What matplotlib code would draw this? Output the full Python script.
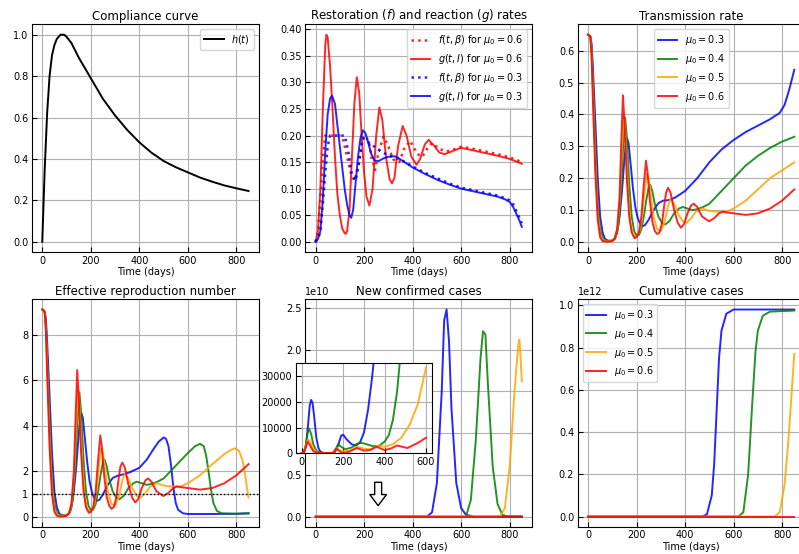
import matplotlib
matplotlib.use('Agg')
import matplotlib.pyplot as plt

# ---- compliance curve h(t)
h_t = [0, 10, 20, 30, 40, 50, 60, 75, 90, 100, 120, 150, 200, 250, 300, 350, 400,
       450, 500, 550, 600, 650, 700, 750, 800, 850]
h_v = [0, 0.35, 0.62, 0.8, 0.9, 0.95, 0.98, 1.0, 1.0, 0.99, 0.96, 0.89, 0.79, 0.69,
       0.61, 0.54, 0.48, 0.43, 0.39, 0.36, 0.335, 0.31, 0.29, 0.272, 0.258, 0.245]

# ---- restoration f and reaction g rates
f06_t = [0, 10, 20, 30, 40, 100, 115, 130, 145, 160, 175, 190, 200, 220, 230, 245, 260,
         280, 300, 320, 345, 365, 390, 420, 440, 460, 480, 510, 540, 570, 600, 650, 700,
         750, 800, 850]
f06_v = [0, 0.02, 0.08, 0.16, 0.2, 0.2, 0.19, 0.16, 0.13, 0.115, 0.14, 0.185, 0.2, 0.19,
         0.16, 0.135, 0.17, 0.198, 0.18, 0.155, 0.15, 0.175, 0.19, 0.165, 0.16, 0.175,
         0.186, 0.175, 0.17, 0.174, 0.179, 0.175, 0.17, 0.165, 0.159, 0.15]
g06_t = [0, 10, 20, 30, 40, 45, 50, 60, 70, 80, 90, 100, 110, 120, 125, 130, 140, 150,
         160, 170, 180, 190, 200, 210, 222, 235, 250, 263, 275, 290, 305, 315, 325, 340,
         359, 375, 395, 416, 430, 450, 466, 490, 510, 532, 560, 600, 650, 700, 750, 800, 850]
g06_v = [0, 0.02, 0.1, 0.25, 0.37, 0.39, 0.385, 0.33, 0.25, 0.16, 0.09, 0.05, 0.025,
         0.016, 0.015, 0.02, 0.06, 0.16, 0.26, 0.31, 0.28, 0.2, 0.13, 0.085, 0.068, 0.1,
         0.2, 0.253, 0.23, 0.16, 0.118, 0.11, 0.12, 0.18, 0.218, 0.2, 0.16, 0.145, 0.155,
         0.183, 0.192, 0.18, 0.168, 0.165, 0.17, 0.177, 0.172, 0.167, 0.162, 0.156, 0.147]
f03_t = [0, 10, 20, 30, 40, 50, 60, 120, 135, 150, 165, 180, 195, 210, 240, 270, 300,
         350, 400, 450, 500, 550, 600, 650, 700, 750, 780, 800, 815, 830, 850]
f03_v = [0, 0.005, 0.02, 0.07, 0.13, 0.18, 0.2, 0.2, 0.17, 0.125, 0.115, 0.15, 0.195,
         0.19, 0.18, 0.17, 0.163, 0.155, 0.142, 0.13, 0.12, 0.11, 0.102, 0.097, 0.092,
         0.087, 0.082, 0.078, 0.07, 0.055, 0.035]
g03_t = [0, 10, 20, 30, 40, 50, 60, 68, 80, 90, 100, 110, 120, 130, 140, 147, 155, 165,
         175, 185, 195, 205, 215, 230, 243, 260, 280, 300, 327, 350, 400, 450, 500, 550,
         600, 650, 700, 750, 780, 800, 815, 830, 840, 850]
g03_v = [0, 0.005, 0.02, 0.08, 0.17, 0.24, 0.27, 0.275, 0.26, 0.22, 0.18, 0.14, 0.1,
         0.07, 0.05, 0.045, 0.06, 0.11, 0.16, 0.195, 0.21, 0.205, 0.19, 0.165, 0.153,
         0.152, 0.157, 0.16, 0.161, 0.155, 0.14, 0.128, 0.117, 0.108, 0.1, 0.095, 0.09,
         0.085, 0.08, 0.075, 0.065, 0.05, 0.04, 0.028]

# ---- transmission rate beta for each mu0
b03_t = [0, 5, 10, 15, 20, 30, 40, 50, 60, 70, 80, 90, 100, 110, 120, 130, 140, 150, 157,
         161, 167, 175, 185, 195, 205, 215, 225, 235, 250, 270, 290, 310, 320, 340, 360,
         400, 450, 500, 550, 600, 650, 700, 750, 790, 810, 830, 850]
b03_v = [0.65, 0.648, 0.645, 0.62, 0.55, 0.38, 0.2, 0.08, 0.03, 0.01, 0.005, 0.004,
         0.005, 0.01, 0.03, 0.08, 0.16, 0.26, 0.31, 0.325, 0.31, 0.25, 0.17, 0.11, 0.075,
         0.057, 0.05, 0.053, 0.07, 0.1, 0.122, 0.13, 0.13, 0.133, 0.14, 0.16, 0.2, 0.25,
         0.29, 0.32, 0.345, 0.365, 0.385, 0.405, 0.43, 0.48, 0.54]
b04_t = [0, 5, 10, 15, 20, 30, 40, 50, 60, 80, 100, 115, 125, 135, 145, 153, 160, 170,
         180, 190, 200, 210, 220, 230, 240, 250, 256, 265, 275, 290, 305, 318, 335, 355,
         375, 390, 410, 430, 450, 475, 500, 550, 600, 650, 700, 750, 800, 850]
b04_v = [0.65, 0.648, 0.643, 0.6, 0.5, 0.3, 0.12, 0.04, 0.012, 0.003, 0.004, 0.015,
         0.05, 0.14, 0.3, 0.39, 0.33, 0.18, 0.08, 0.035, 0.02, 0.022, 0.04, 0.08, 0.13,
         0.172, 0.18, 0.16, 0.12, 0.08, 0.06, 0.055, 0.065, 0.09, 0.105, 0.11, 0.105, 0.1,
         0.103, 0.11, 0.12, 0.16, 0.2, 0.24, 0.27, 0.295, 0.315, 0.33]
b05_t = [0, 5, 10, 15, 20, 30, 40, 50, 60, 80, 100, 112, 122, 132, 140, 148, 155, 165,
         175, 185, 195, 205, 215, 225, 235, 243, 250, 260, 270, 285, 300, 315, 330, 340,
         355, 370, 390, 406, 425, 445, 470, 500, 530, 570, 600, 650, 700, 750, 800, 850]
b05_v = [0.65, 0.648, 0.642, 0.59, 0.48, 0.26, 0.09, 0.025, 0.007, 0.002, 0.004, 0.012,
         0.045, 0.14, 0.3, 0.4, 0.33, 0.16, 0.06, 0.025, 0.015, 0.02, 0.04, 0.09, 0.17,
         0.215, 0.2, 0.14, 0.08, 0.04, 0.035, 0.06, 0.115, 0.135, 0.12, 0.09, 0.065, 0.06,
         0.075, 0.095, 0.105, 0.098, 0.095, 0.095, 0.105, 0.13, 0.165, 0.2, 0.225, 0.25]
b06_t = [0, 5, 10, 15, 20, 30, 40, 50, 60, 80, 100, 110, 120, 130, 138, 144, 150, 160,
         170, 180, 192, 200, 210, 220, 230, 239, 245, 255, 265, 275, 285, 295, 305, 315,
         322, 330, 340, 355, 370, 383, 395, 410, 425, 436, 450, 470, 499, 520, 540, 554,
         570, 600, 650, 700, 750, 800, 850]
b06_v = [0.65, 0.648, 0.64, 0.58, 0.45, 0.22, 0.07, 0.015, 0.003, 0.001, 0.003, 0.01,
         0.04, 0.14, 0.33, 0.46, 0.38, 0.2, 0.08, 0.03, 0.012, 0.015, 0.03, 0.08, 0.18,
         0.255, 0.22, 0.13, 0.065, 0.035, 0.025, 0.03, 0.06, 0.12, 0.155, 0.17, 0.155,
         0.1, 0.06, 0.045, 0.055, 0.09, 0.115, 0.12, 0.11, 0.08, 0.065, 0.075, 0.09,
         0.095, 0.093, 0.09, 0.085, 0.09, 0.105, 0.13, 0.165]

# ---- effective reproduction number
r03_t = [0, 5, 10, 15, 20, 30, 40, 50, 60, 70, 80, 90, 100, 110, 120, 130, 140, 150, 157,
         161, 167, 175, 185, 195, 205, 215, 225, 235, 250, 270, 290, 310, 330, 360, 400,
         430, 460, 480, 500, 510, 520, 530, 540, 550, 560, 580, 600, 700, 800, 850]
r03_v = [9.1, 9.07, 9.0, 8.7, 7.7, 5.3, 2.8, 1.1, 0.42, 0.14, 0.07, 0.05, 0.07, 0.14,
         0.42, 1.1, 2.2, 3.6, 4.35, 4.55, 4.35, 3.5, 2.4, 1.55, 1.05, 0.8, 0.7, 0.74,
         0.98, 1.4, 1.7, 1.8, 1.85, 1.95, 2.15, 2.5, 3.0, 3.3, 3.48, 3.42, 3.1, 2.3, 1.3,
         0.6, 0.3, 0.15, 0.12, 0.12, 0.13, 0.15]
r04_t = [0, 5, 10, 15, 20, 30, 40, 50, 60, 80, 100, 115, 125, 135, 145, 153, 160, 170,
         180, 190, 200, 210, 220, 230, 240, 250, 256, 265, 275, 290, 305, 318, 335, 355,
         375, 390, 410, 430, 450, 475, 500, 550, 600, 630, 650, 665, 675, 685, 695, 705,
         720, 740, 800, 850]
r04_v = [9.1, 9.07, 9.0, 8.4, 7.0, 4.2, 1.68, 0.56, 0.17, 0.04, 0.06, 0.21, 0.7, 1.96,
         4.2, 5.46, 4.6, 2.5, 1.12, 0.49, 0.28, 0.31, 0.56, 1.12, 1.82, 2.4, 2.52, 2.24,
         1.68, 1.12, 0.84, 0.77, 0.91, 1.26, 1.47, 1.54, 1.47, 1.4, 1.44, 1.54, 1.68,
         2.24, 2.8, 3.1, 3.2, 3.1, 2.7, 2.0, 1.2, 0.6, 0.25, 0.15, 0.13, 0.15]
r05_t = [0, 5, 10, 15, 20, 30, 40, 50, 60, 80, 100, 112, 122, 132, 140, 148, 155, 165,
         175, 185, 195, 205, 215, 225, 235, 243, 250, 260, 270, 285, 300, 315, 330, 340,
         355, 370, 390, 406, 425, 445, 470, 500, 530, 570, 600, 650, 700, 750, 780, 795,
         810, 825, 835, 843, 850]
r05_v = [9.1, 9.07, 8.99, 8.26, 6.72, 3.64, 1.26, 0.35, 0.1, 0.03, 0.06, 0.17, 0.63,
         1.96, 4.2, 5.6, 4.62, 2.24, 0.84, 0.35, 0.21, 0.28, 0.56, 1.26, 2.38, 3.0, 2.8,
         1.96, 1.12, 0.56, 0.49, 0.84, 1.61, 1.89, 1.68, 1.26, 0.91, 0.84, 1.05, 1.33,
         1.47, 1.37, 1.33, 1.33, 1.47, 1.82, 2.3, 2.75, 2.95, 3.0, 2.9, 2.5, 1.9, 1.3, 0.85]
r06_t = b06_t
r06_v = [9.1, 9.07, 8.96, 8.12, 6.3, 3.08, 0.98, 0.21, 0.04, 0.01, 0.04, 0.14, 0.56,
         1.96, 4.6, 6.44, 5.3, 2.8, 1.12, 0.42, 0.17, 0.21, 0.42, 1.12, 2.5, 3.57, 3.1,
         1.8, 0.9, 0.5, 0.35, 0.42, 0.84, 1.7, 2.2, 2.38, 2.17, 1.4, 0.84, 0.63, 0.77,
         1.26, 1.6, 1.68, 1.54, 1.12, 0.91, 1.05, 1.26, 1.33, 1.3, 1.26, 1.19, 1.26, 1.47,
         1.82, 2.31]

# ---- new confirmed cases (units of 1e10)
n03_t = [0, 460, 480, 500, 520, 530, 540, 550, 560, 580, 600, 620, 650, 850]
n03_v = [0, 0, 0.05, 0.4, 1.5, 2.35, 2.48, 2.1, 1.3, 0.4, 0.1, 0.02, 0, 0]
n04_t = [0, 620, 640, 660, 680, 690, 700, 710, 730, 750, 770, 790, 850]
n04_v = [0, 0, 0.2, 0.9, 1.9, 2.22, 2.18, 1.6, 0.6, 0.15, 0.02, 0, 0]
n05_t = [0, 760, 780, 800, 820, 835, 840, 845, 850]
n05_v = [0, 0, 0.1, 0.6, 1.5, 2.05, 2.12, 1.9, 1.62]
n06_t = [0, 850]
n06_v = [0, 0]
new_ticks = [0, 0.5, 1.0, 1.5, 2.0, 2.5]
new_ticklabels = ['0.0', '0.5', '', '', '2.0', '2.5']

# ---- inset: early new cases
i03_t = [0, 10, 20, 30, 38, 45, 52, 60, 70, 80, 90, 110, 150, 160, 175, 190, 200, 215,
         240, 260, 280, 300, 320, 340, 350]
i03_v = [0, 300, 3000, 11000, 18500, 20800, 19500, 14000, 6000, 2000, 500, 0, 0, 500,
         3000, 6800, 7200, 5500, 3500, 3000, 4000, 8000, 17000, 30000, 38000]
i04_t = [0, 10, 20, 28, 35, 45, 55, 70, 90, 150, 160, 175, 190, 210, 240, 260, 280, 300,
         340, 370, 400, 420, 440, 460, 475]
i04_v = [0, 500, 3500, 8000, 9600, 7500, 3500, 1000, 0, 0, 800, 3500, 2500, 1500, 2200,
         3300, 4100, 3800, 2800, 2700, 4500, 7000, 13000, 24000, 37000]
i05_t = [0, 10, 20, 30, 40, 55, 80, 150, 170, 190, 230, 270, 300, 330, 370, 400, 440,
         480, 520, 560, 600]
i05_v = [0, 400, 3000, 5500, 4500, 1500, 0, 0, 2000, 800, 1000, 2500, 1800, 1500, 3000,
         2500, 3500, 6000, 11000, 19000, 33500]
i06_t = [0, 10, 20, 28, 40, 55, 80, 150, 165, 185, 200, 230, 265, 300, 330, 360, 400,
         430, 460, 510, 560, 600]
i06_v = [0, 300, 2500, 4500, 3000, 800, 0, 0, 1800, 600, 0, 600, 2000, 1000, 1200, 2500,
         1200, 1800, 3000, 2000, 4000, 6000]

# ---- cumulative cases (units of 1e12)
c03_t = [0, 470, 490, 510, 520, 530, 540, 550, 570, 600, 850]
c03_v = [0, 0, 0.01, 0.1, 0.25, 0.5, 0.75, 0.88, 0.96, 0.98, 0.98]
c04_t = [0, 620, 640, 660, 675, 690, 700, 720, 750, 850]
c04_v = [0, 0, 0.02, 0.2, 0.5, 0.78, 0.88, 0.95, 0.97, 0.975]
c05_t = [0, 770, 790, 810, 825, 840, 850]
c05_v = [0, 0, 0.02, 0.15, 0.35, 0.6, 0.77]
c06_t = [0, 850]
c06_v = [0, 0]

mu_labels = [r'$\mu_0 = 0.3$', r'$\mu_0 = 0.4$', r'$\mu_0 = 0.5$', r'$\mu_0 = 0.6$']
colors = ['blue', 'green', 'orange', 'red']

plt.rcParams['font.family'] = ['DejaVu Sans']
plt.rcParams['font.size'] = 7
plt.rcParams['axes.titlesize'] = 8.5
plt.rcParams['axes.titlepad'] = 3
plt.rcParams['axes.labelpad'] = 1
plt.rcParams['xtick.direction'] = 'in'
plt.rcParams['ytick.direction'] = 'in'
plt.rcParams['xtick.major.pad'] = 2.5
plt.rcParams['ytick.major.pad'] = 2.5

fig = plt.figure(figsize=(7.99, 5.54), dpi=100)
W, H = 0.284, 0.411
lefts = [0.040, 0.382, 0.723]
axs = [[fig.add_axes([l, 0.545, W, H]) for l in lefts],
       [fig.add_axes([l, 0.049, W, H]) for l in lefts]]
lw = 1.4
al = 0.85

ax = axs[0][0]
ax.plot(h_t, h_v, color='black', lw=lw, label=r'$h(t)$')
ax.set_title('Compliance curve')
ax.legend(loc='upper right')

ax = axs[0][1]
ax.plot(f06_t, f06_v, ':', color='red', lw=1.8, alpha=al, label=r'$f(t,\beta)$ for $\mu_0 = 0.6$')
ax.plot(g06_t, g06_v, color='red', lw=lw, alpha=al, label=r'$g(t,I)$ for $\mu_0 = 0.6$')
ax.plot(f03_t, f03_v, ':', color='blue', lw=1.8, alpha=al, label=r'$f(t,\beta)$ for $\mu_0 = 0.3$')
ax.plot(g03_t, g03_v, color='blue', lw=lw, alpha=al, label=r'$g(t,I)$ for $\mu_0 = 0.3$')
ax.set_title(r'Restoration ($f$) and reaction ($g$) rates')
ax.legend(loc='upper right')

ax = axs[0][2]
for t, v, c, lab in zip([b03_t, b04_t, b05_t, b06_t], [b03_v, b04_v, b05_v, b06_v],
                        colors, mu_labels):
    ax.plot(t, v, color=c, lw=lw, alpha=al, label=lab)
ax.set_title('Transmission rate')
ax.legend(loc='upper center')

ax = axs[1][0]
for t, v, c in zip([r03_t, r04_t, r05_t, r06_t], [r03_v, r04_v, r05_v, r06_v], colors):
    ax.plot(t, v, color=c, lw=lw, alpha=al)
ax.axhline(1, color='black', ls=':', lw=1)
ax.set_yticks([0, 1, 2, 4, 6, 8])
ax.set_title('Effective reproduction number')

ax = axs[1][1]
for t, v, c in zip([n03_t, n04_t, n05_t, n06_t], [n03_v, n04_v, n05_v, n06_v], colors):
    ax.plot(t, v, color=c, lw=lw, alpha=al)
ax.set_yticks(new_ticks, labels=new_ticklabels)
ax.text(0, 1.01, '1e10', transform=ax.transAxes, ha='left', va='bottom')
ax.set_title('New confirmed cases')
ax.annotate('', xy=(258, 0.13), xytext=(258, 0.41),
            arrowprops=dict(facecolor='white', edgecolor='black', width=5,
                            headwidth=12, headlength=8, shrink=0))

ax = axs[1][2]
for t, v, c, lab in zip([c03_t, c04_t, c05_t, c06_t], [c03_v, c04_v, c05_v, c06_v],
                        colors, mu_labels):
    ax.plot(t, [x * 1e12 for x in v], color=c, lw=lw, alpha=al, label=lab)
ax.set_title('Cumulative cases')
ax.legend(loc='upper left')

for row in axs:
    for ax in row:
        ax.grid(True)
        ax.set_xlabel('Time (days)')
        ax.set_xticks([0, 200, 400, 600, 800])

ins = fig.add_axes([0.370, 0.182, 0.171, 0.162])
for t, v, c in zip([i03_t, i04_t, i05_t, i06_t], [i03_v, i04_v, i05_v, i06_v], colors):
    ins.plot(t, v, color=c, lw=lw, alpha=al)
ins.set_xlim(-30, 630)
ins.set_ylim(0, 35000)
ins.set_xticks([0, 200, 400, 600])
ins.set_yticks([0, 10000, 20000, 30000])
ins.grid(True)

fig.savefig('out.png', dpi=100)
